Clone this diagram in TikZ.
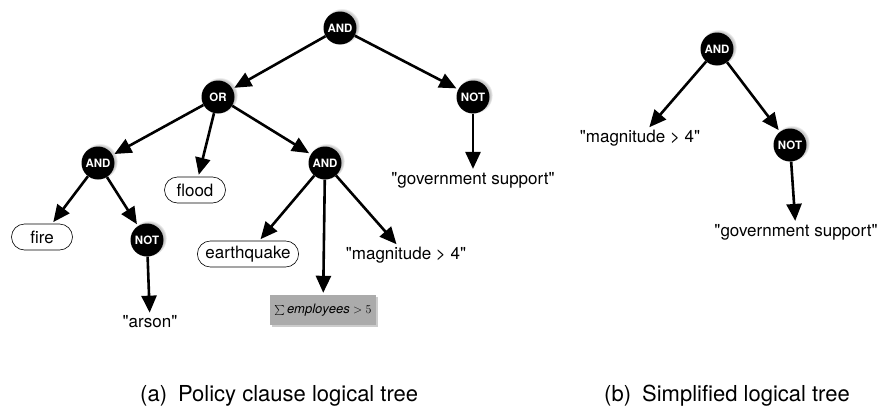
\documentclass[tikz,border=0pt]{standalone}
\usepackage{fontspec}
\setmainfont{TeX Gyre Heros}
\usetikzlibrary{arrows.meta,shadows}
\newcommand{\qq}[1]{\textquotedbl#1\textquotedbl}
\begin{document}
\begin{tikzpicture}[x=1pt,y=-1pt,
  op/.style={circle,fill=black,text=white,inner sep=0pt,minimum size=33pt,
    font=\fontsize{11.5}{11.5}\selectfont\bfseries,
    circular drop shadow={shadow xshift=1.5pt,shadow yshift=1.5pt,opacity=0.45}},
  leaf/.style={rectangle,rounded corners=13pt,draw=black,line width=0.6pt,fill=white,
    inner xsep=8pt,inner ysep=3pt,minimum width=61pt,minimum height=26pt,
    font=\fontsize{17}{17}\selectfont},
  lit/.style={inner sep=1pt,font=\fontsize{17}{17}\selectfont},
  sumbox/.style={rectangle,fill=black!33,inner sep=4pt,minimum width=105pt,minimum height=30pt,
    drop shadow={shadow xshift=2pt,shadow yshift=-2pt,opacity=0.4},
    font=\fontsize{13}{13}\selectfont},
  captext/.style={anchor=base west,inner sep=0pt,font=\fontsize{22}{22}\selectfont},
  arr/.style={line width=2.6pt,-{Triangle[length=17pt,width=15pt]},shorten >=2pt}]
\useasboundingbox (0,0) rectangle (884,407);

% policy clause tree
\node[op] (root) at (340,28) {AND};
\node[op] (or) at (218,97) {OR};
\node[op] (notg) at (473,97) {NOT};
\node[op] (andl) at (98,163) {AND};
\node[leaf] (flood) at (195,190) {flood};
\node[op] (andm) at (325,163) {AND};
\node[lit] (gov) at (473,180) {\qq{government support}};
\node[leaf] (fire) at (42,237) {fire};
\node[op] (nota) at (147,240) {NOT};
\node[leaf] (quake) at (248,254) {earthquake};
\node[lit] (mag) at (406,255) {\qq{magnitude > 4}};
\node[sumbox] (emp) at (323,310) {$\sum \mathit{employees} > 5$};
\node[lit] (arson) at (150,322) {\qq{arson}};

\draw[arr] (root) -- (or);
\draw[arr] (root) -- (notg);
\draw[arr] (notg) -- (gov);
\draw[arr] (or) -- (andl);
\draw[arr] (or) -- (flood);
\draw[arr] (or) -- (andm);
\draw[arr] (andl) -- (fire);
\draw[arr] (andl) -- (nota);
\draw[arr] (nota) -- (arson);
\draw[arr] (andm) -- (quake);
\draw[arr] (andm) -- (emp);
\draw[arr] (andm) -- (mag);

% simplified tree
\node[op] (sroot) at (717,49) {AND};
\node[lit] (smag) at (640,138) {\qq{magnitude > 4}};
\node[op] (snot) at (790,145) {NOT};
\node[lit] (sgov) at (796,232) {\qq{government support}};
\draw[arr] (sroot) -- (smag);
\draw[arr] (sroot) -- (snot);
\draw[arr] (snot) -- (sgov);

% captions
\node[captext] (capa) at (140,401) {(a)\enspace Policy clause logical tree};
\node[captext] (capb) at (604,401) {(b)\enspace Simplified logical tree};
\end{tikzpicture}
\end{document}
